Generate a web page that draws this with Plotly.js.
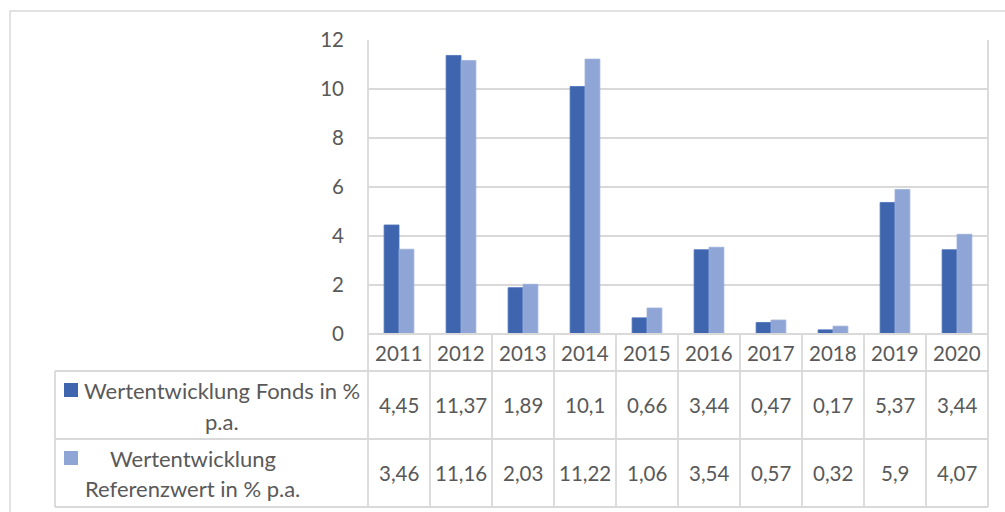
<!DOCTYPE html>
<html>
<head>
<meta charset="utf-8">
<script src="https://cdn.plot.ly/plotly-3.0.1.min.js"></script>
<style>html,body{margin:0;padding:0;background:#fff;}#chart{width:1005px;height:512px;}</style>
</head>
<body>
<div id="chart"></div>
<script>
// ---- data ----
const years = ['2011','2012','2013','2014','2015','2016','2017','2018','2019','2020'];
const fonds = [4.45, 11.37, 1.89, 10.1, 0.66, 3.44, 0.47, 0.17, 5.37, 3.44];
const referenz = [3.46, 11.16, 2.03, 11.22, 1.06, 3.54, 0.57, 0.32, 5.9, 4.07];
const fondsLabel = ['4,45','11,37','1,89','10,1','0,66','3,44','0,47','0,17','5,37','3,44'];
const referenzLabel = ['3,46','11,16','2,03','11,22','1,06','3,54','0,57','0,32','5,9','4,07'];
const fondsNameLines = ['Wertentwicklung Fonds in %', 'p.a.'];
const referenzNameLines = ['Wertentwicklung', 'Referenzwert in % p.a.'];
const yTicks = [0, 2, 4, 6, 8, 10, 12];

// ---- styling ----
const W = 1005, H = 512;
const L = 368, R = 17, T = 40, B = 178;
const plotH = H - T - B, plotW = W - L - R;
const darkC = '#3F65AE', lightC = '#8FA5D5', gridC = '#D9D9D9', textC = '#595959';
const FONT = 'Lato, "Open Sans", sans-serif';
const py = p => (H - B - p) / plotH;   // pixel y -> paper y
const px = p => (p - L) / plotW;       // pixel x -> paper x

const traces = [
  {type:'bar', x: years, y: fonds, name: fondsNameLines.join(' '), marker:{color:darkC, line:{color:'#4A70B8', width:0.8}}, hoverinfo:'skip'},
  {type:'bar', x: years, y: referenz, name: referenzNameLines.join(' '), marker:{color:lightC, line:{color:'#9AAFDB', width:0.8}}, hoverinfo:'skip'}
];

const shapes = [];
const lineStyle = {color: gridC, width: 1.8};
// outer chart border
shapes.push({type:'rect', xref:'paper', yref:'paper', x0:px(10), x1:px(1010), y0:py(11), y1:py(520), line:{color:gridC, width:1.5}, layer:'below'});
// horizontal table lines
[371, 439, 507].forEach(p => shapes.push({type:'line', xref:'paper', yref:'paper', x0:px(55), x1:1, y0:py(p), y1:py(p), line:lineStyle}));
shapes.push({type:'line', xref:'paper', yref:'paper', x0:0, x1:1, y0:0, y1:0, line:lineStyle});
// left legend column border
shapes.push({type:'line', xref:'paper', yref:'paper', x0:px(55), x1:px(55), y0:py(371), y1:py(507), line:lineStyle});
// plot area left/right borders extended through the table
shapes.push({type:'line', xref:'paper', yref:'paper', x0:0, x1:0, y0:1, y1:py(507), line:lineStyle});
shapes.push({type:'line', xref:'paper', yref:'paper', x0:1, x1:1, y0:1, y1:py(507), line:lineStyle});
// column separators in table
for (let i = 1; i < years.length; i++) {
  shapes.push({type:'line', xref:'x', yref:'paper', x0:i-0.5, x1:i-0.5, y0:0, y1:py(507), line:lineStyle});
}
// legend keys
shapes.push({type:'rect', xref:'paper', yref:'paper', x0:px(64), x1:px(78), y0:py(383), y1:py(397), fillcolor:darkC, line:{width:0}});
shapes.push({type:'rect', xref:'paper', yref:'paper', x0:px(64), x1:px(78), y0:py(451), y1:py(465), fillcolor:lightC, line:{width:0}});

const annotations = [];
const nf = {family: FONT, size: 20.5, color: textC};
const lf = {family: FONT, size: 22, color: textC};
years.forEach((yr, i) => {
  annotations.push({x: i, xref:'x', y: py(352.5), yref:'paper', text: yr, showarrow:false, font: nf, xanchor:'center', yanchor:'middle'});
  annotations.push({x: i, xref:'x', y: py(405), yref:'paper', text: fondsLabel[i], showarrow:false, font: nf, xanchor:'center', yanchor:'middle'});
  annotations.push({x: i, xref:'x', y: py(473), yref:'paper', text: referenzLabel[i], showarrow:false, font: nf, xanchor:'center', yanchor:'middle'});
});
annotations.push({x: px(221.5), xref:'paper', y: py(390), yref:'paper', text: fondsNameLines[0], showarrow:false, font: lf, xanchor:'center', yanchor:'middle'});
annotations.push({x: px(221.5), xref:'paper', y: py(422), yref:'paper', text: fondsNameLines[1], showarrow:false, font: lf, xanchor:'center', yanchor:'middle'});
annotations.push({x: px(193), xref:'paper', y: py(458), yref:'paper', text: referenzNameLines[0], showarrow:false, font: lf, xanchor:'center', yanchor:'middle'});
annotations.push({x: px(192.5), xref:'paper', y: py(488), yref:'paper', text: referenzNameLines[1], showarrow:false, font: lf, xanchor:'center', yanchor:'middle'});

const layout = {
  width: W, height: H,
  margin: {l: L, r: R, t: T, b: B, pad: 0},
  paper_bgcolor: '#ffffff', plot_bgcolor: '#ffffff',
  showlegend: false,
  barmode: 'group', bargap: 0.52, bargroupgap: 0,
  font: {family: FONT, color: textC},
  xaxis: {type:'category', showticklabels:false, showgrid:false, zeroline:false, showline:false, ticks:'', range:[-0.5, years.length-0.5], fixedrange:true},
  yaxis: {range:[0, 12], tickvals: yTicks, ticktext: yTicks.map(String), showgrid:true, gridcolor:gridC, gridwidth:1.8, zeroline:false, showline:false, ticks:'', ticklabelstandoff: 23, tickfont:{family: FONT, size: 20.5, color: textC}, fixedrange:true},
  shapes: shapes,
  annotations: annotations
};

Plotly.newPlot('chart', traces, layout, {displayModeBar:false, staticPlot:true});
</script>
</body>
</html>
